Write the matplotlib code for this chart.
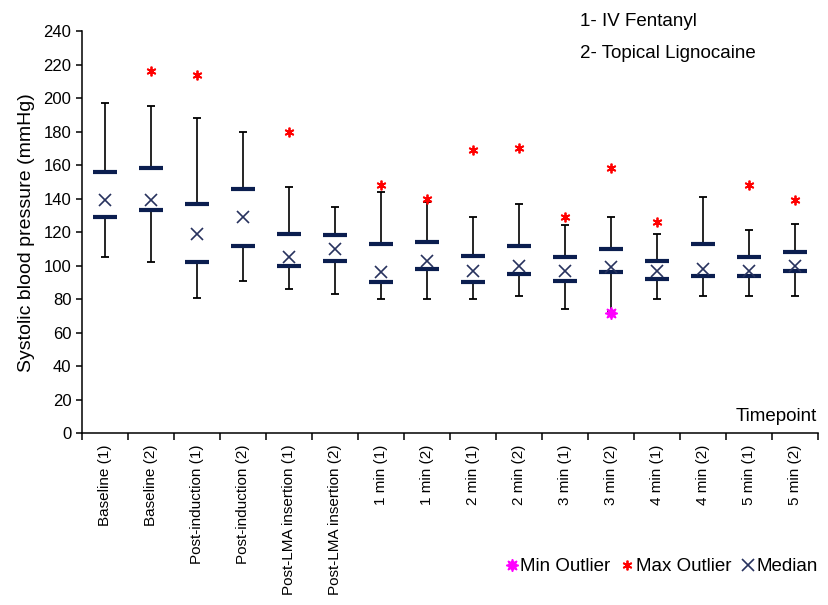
"""
Systolic blood pressure by timepoint: Excel-style high/low/quartile chart
with median crosses and outlier stars.
"""

import matplotlib

matplotlib.use("Agg")
import matplotlib.pyplot as plt
import numpy as np

plt.rcParams["font.family"] = ["Liberation Sans", "DejaVu Sans"]

labels = [
    "Baseline (1)", "Baseline (2)", "Post-induction (1)", "Post-induction (2)",
    "Post-LMA insertion (1)", "Post-LMA insertion (2)", "1 min (1)", "1 min (2)",
    "2 min (1)", "2 min (2)", "3 min (1)", "3 min (2)",
    "4 min (1)", "4 min (2)", "5 min (1)", "5 min (2)",
]
whisker_hi = [197, 195, 188, 180, 147, 135, 144, 138, 129, 137, 124, 129, 119, 141, 121, 125]
q3 = [156, 158, 137, 146, 119, 118, 113, 114, 106, 112, 105, 110, 103, 113, 105, 108]
median = [139, 139, 119, 129, 105, 110, 96, 103, 97, 100, 97, 99, 97, 98, 97, 100]
q1 = [129, 133, 102, 112, 100, 103, 90, 98, 90, 95, 91, 96, 92, 94, 94, 97]
whisker_lo = [105, 102, 81, 91, 86, 83, 80, 80, 80, 82, 74, 73, 80, 82, 82, 82]
nan = np.nan
max_outlier = [nan, 216, 214, nan, 180, nan, 148, 140, 169, 170, 129, 158, 126, nan, 148, 139]
min_outlier = [nan, nan, nan, nan, nan, nan, nan, nan, nan, nan, nan, 72, nan, nan, nan, nan]

NAVY = "#0B1E4F"
MED = "#27325E"

fig = plt.figure(figsize=(8.29, 6.05), dpi=100)
ax = fig.add_axes([0.0986, 0.2838, 0.888, 0.665])

x = np.arange(1, len(labels) + 1)

# whiskers (no line between the quartile bars)
ax.vlines(x, q3, whisker_hi, color="black", lw=1.2, zorder=2)
ax.vlines(x, whisker_lo, q1, color="black", lw=1.2, zorder=2)
ax.plot(x, whisker_hi, ls="none", marker="_", ms=6, mew=1.3, color="black", zorder=2)
ax.plot(x, whisker_lo, ls="none", marker="_", ms=6, mew=1.3, color="black", zorder=2)

# quartile bars
ax.plot(x, q3, ls="none", marker="_", ms=17, mew=3.0, color=NAVY, zorder=3)
ax.plot(x, q1, ls="none", marker="_", ms=17, mew=3.0, color=NAVY, zorder=3)

h_min, = ax.plot(x, min_outlier, ls="none", marker=(8, 1, 0), ms=9,
                 color="#FF00FF", mec="#FF00FF", zorder=4, label="Min Outlier")
h_max, = ax.plot(x, max_outlier, ls="none", marker=(6, 2, 0), ms=7, mew=1.3,
                 color="#FF0000", zorder=4, label="Max Outlier")
h_med, = ax.plot(x, median, ls="none", marker="x", ms=9, mew=1.2,
                 color=MED, zorder=5, label="Median")

ax.set_xlim(0.5, len(labels) + 0.5)
ax.set_ylim(0, 240)
ax.set_yticks(np.arange(0, 241, 20))
ax.tick_params(axis="y", labelsize=12, length=4, width=1.1)

# Excel style: ticks between categories, labels at the centres
ax.set_xticks(np.arange(0.5, len(labels) + 1, 1))
ax.set_xticklabels([])
ax.set_xticks(x, minor=True)
ax.set_xticklabels(labels, minor=True, rotation=90, fontsize=11)
ax.tick_params(axis="x", which="major", length=5, width=1.1)
ax.tick_params(axis="x", which="minor", length=0, pad=8)

for side in ["top", "right"]:
    ax.spines[side].set_visible(False)
for side in ["left", "bottom"]:
    ax.spines[side].set_linewidth(1.1)

ax.set_ylabel("Systolic blood pressure (mmHg)", fontsize=14, labelpad=6)
ax.text(0.998, 0.02, "Timepoint", transform=ax.transAxes, ha="right",
        va="bottom", fontsize=13.5)

fig.text(0.70, 0.964, "1- IV Fentanyl", fontsize=13.5, va="center")
fig.text(0.70, 0.912, "2- Topical Lignocaine", fontsize=13.5, va="center")

fig.legend(handles=[h_min, h_max, h_med], loc="center right",
           bbox_to_anchor=(1.0, 0.063), ncol=3, frameon=False, fontsize=13.5,
           handlelength=0.6, handletextpad=0.15, columnspacing=0.6,
           borderaxespad=0.2)

fig.savefig("out.png", dpi=100)
